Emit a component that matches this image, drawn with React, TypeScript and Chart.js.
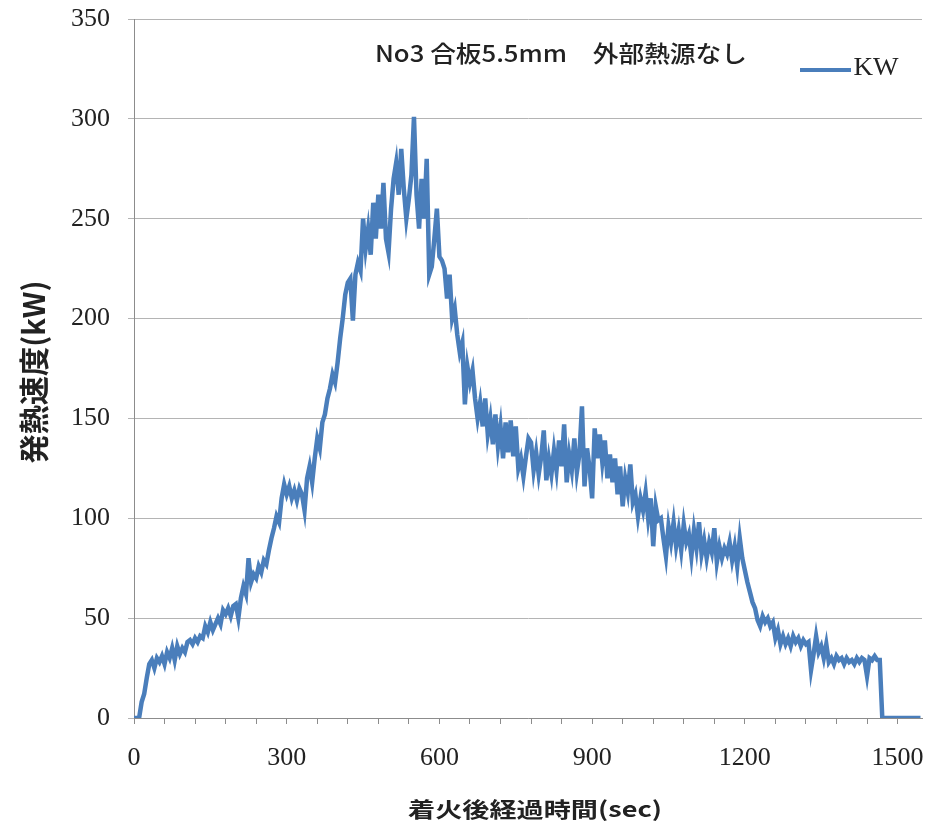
import React, { useEffect, useRef } from "react";
import { Chart, registerables } from "chart.js";

Chart.register(...registerables);

// ---- data ----
const SAMPLE_STEP_SEC = 5; // sampling interval of the series below (seconds)
// 発熱速度 (kW), one value every 5 s starting at t = 0
const KW_VALUES: number[] = [
  0, 0, 0, 8, 12, 20, 27, 29, 25, 30, 28, 31,
  27, 33, 30, 35, 29, 36, 32, 35, 33, 38, 39, 37,
  40, 38, 41, 40, 46, 43, 48, 44, 47, 50, 47, 54,
  52, 55, 51, 56, 57, 50, 60, 66, 62, 80, 68, 72,
  70, 76, 73, 79, 77, 84, 90, 95, 101, 98, 110, 117,
  112, 116, 110, 114, 109, 115, 112, 104, 120, 126, 118, 130,
  140, 135, 148, 152, 160, 165, 172, 168, 178, 190, 200, 212,
  218, 220, 199, 222, 228, 224, 250, 235, 245, 232, 258, 240,
  262, 245, 268, 240, 233, 255, 270, 278, 262, 285, 265, 250,
  260, 272, 301, 262, 245, 270, 250, 280, 222, 226, 240, 255,
  231, 229, 225, 210, 222, 200, 205, 192, 183, 188, 157, 176,
  168, 174, 160, 150, 158, 146, 160, 142, 150, 137, 152, 136,
  146, 130, 148, 133, 149, 131, 146, 125, 130, 121, 131, 140,
  138, 124, 133, 122, 131, 144, 119, 130, 122, 134, 124, 139,
  126, 147, 118, 132, 124, 140, 123, 132, 156, 116, 135, 125,
  110, 145, 130, 142, 128, 139, 120, 132, 118, 130, 112, 126,
  106, 120, 113, 127, 108, 112, 101, 110, 104, 113, 100, 110,
  86, 106, 99, 100, 90, 81, 96, 88, 98, 86, 94, 84,
  97, 88, 92, 81, 94, 85, 98, 82, 89, 80, 88, 83,
  95, 78, 86, 80, 85, 82, 88, 79, 86, 76, 90, 80,
  74, 68, 63, 58, 55, 49, 46, 51, 48, 50, 46, 48,
  40, 44, 37, 41, 37, 40, 36, 41, 38, 40, 36, 39,
  37, 38, 24, 32, 41, 33, 36, 30, 37, 28, 30, 27,
  31, 29, 30, 27, 30, 28, 29, 27, 30, 28, 30, 29,
  21, 30, 29, 31, 29, 29, 0, 0, 0, 0, 0, 0,
  0, 0, 0, 0, 0, 0, 0, 0, 0, 0,
];

const X_MAX = 1548;
const X_TICK_STEP = 60;
const X_LABEL_STEP = 300;
const X_LAST_TICK = 1500;
const Y_MAX = 350;
const Y_STEP = 50;

const CHART_TITLE = "No3 合板5.5mm\u3000外部熱源なし";
const SERIES_LABEL = "KW";
const X_TITLE = "着火後経過時間(sec)";
const Y_TITLE = "発熱速度(kW)";

const LINE_COLOR = "#4a7ebb";
const TEXT_COLOR = "#222222";
const TICK_FONT = { family: "'Liberation Serif', serif", size: 26 };

function drawStretched(
  ctx: CanvasRenderingContext2D,
  text: string,
  cx: number,
  cy: number,
  font: string,
  targetWidth: number,
  rotate = 0,
  scaleY = 1
) {
  ctx.save();
  ctx.font = font;
  const w = ctx.measureText(text).width;
  ctx.translate(cx, cy);
  if (rotate) ctx.rotate(rotate);
  ctx.scale(targetWidth / w, scaleY);
  ctx.textAlign = "center";
  ctx.textBaseline = "middle";
  ctx.fillStyle = TEXT_COLOR;
  ctx.fillText(text, 0, 0);
  ctx.restore();
}

const overlayPlugin = {
  id: "overlayTexts",
  afterDraw(chart: any) {
    const ctx: CanvasRenderingContext2D = chart.ctx;
    const area = chart.chartArea;
    drawStretched(ctx, CHART_TITLE, 561, 53, "500 23px 'Noto Sans CJK JP'", 372);
    ctx.save();
    ctx.strokeStyle = LINE_COLOR;
    ctx.lineWidth = 4;
    ctx.beginPath();
    ctx.moveTo(800, 70);
    ctx.lineTo(851, 70);
    ctx.stroke();
    ctx.restore();
    drawStretched(ctx, SERIES_LABEL, 876, 68, "26px 'Liberation Serif'", 45);
    drawStretched(
      ctx,
      X_TITLE,
      (area.left + area.right) / 2 + 7,
      809,
      "bold 21px 'Noto Sans CJK JP'",
      254
    );
    drawStretched(
      ctx,
      Y_TITLE,
      34,
      372,
      "bold 26px 'Noto Sans CJK JP'",
      183,
      -Math.PI / 2,
      1.15
    );
  },
};

export default function App() {
  const canvasRef = useRef<HTMLCanvasElement | null>(null);

  useEffect(() => {
    const canvas = canvasRef.current;
    if (!canvas) return;
    const points = KW_VALUES.map((v, i) => ({ x: i * SAMPLE_STEP_SEC, y: v }));
    const chart = new Chart(canvas, {
      type: "line",
      data: {
        datasets: [
          {
            label: SERIES_LABEL,
            data: points,
            borderColor: LINE_COLOR,
            backgroundColor: LINE_COLOR,
            borderWidth: 4.5,
            pointRadius: 0,
            tension: 0,
            fill: false,
            borderJoinStyle: "miter",
          },
        ],
      },
      options: {
        animation: false,
        responsive: false,
        devicePixelRatio: 1,
        layout: { padding: { top: 19, right: 9, left: 0, bottom: 0 } },
        plugins: {
          legend: { display: false },
          title: { display: false },
          tooltip: { enabled: false },
        },
        scales: {
          x: {
            type: "linear",
            min: 0,
            max: X_MAX,
            afterBuildTicks: (s: any) => {
              const t: any[] = [];
              for (let v = 0; v <= X_LAST_TICK; v += X_TICK_STEP) t.push({ value: v });
              s.ticks = t;
            },
            afterFit: (s: any) => {
              s.height = 117;
              s.paddingLeft = 0;
              s.paddingRight = 0;
            },
            ticks: {
              autoSkip: false,
              maxRotation: 0,
              padding: 19,
              color: TEXT_COLOR,
              font: TICK_FONT,
              callback: (v: any) => (Number(v) % X_LABEL_STEP === 0 ? String(v) : ""),
            },
            grid: {
              drawOnChartArea: false,
              drawTicks: true,
              tickLength: 6,
              color: "#8c8c8c",
            },
            border: { color: "#8c8c8c", width: 1 },
          },
          y: {
            min: 0,
            max: Y_MAX,
            afterFit: (s: any) => {
              s.width = 134;
              s.paddingTop = 0;
              s.paddingBottom = 0;
            },
            ticks: {
              stepSize: Y_STEP,
              padding: 18,
              color: TEXT_COLOR,
              font: TICK_FONT,
            },
            grid: {
              color: "#b4b4b4",
              drawTicks: true,
              tickLength: 6,
            },
            border: { color: "#8c8c8c", width: 1 },
          },
        },
      },
      plugins: [overlayPlugin],
    } as any);
    return () => chart.destroy();
  }, []);

  return (
    <div style={{ position: "fixed", left: 0, top: 0, width: 931, height: 835, background: "#fff" }}>
      <canvas ref={canvasRef} width={931} height={835} style={{ display: "block" }} />
    </div>
  );
}
